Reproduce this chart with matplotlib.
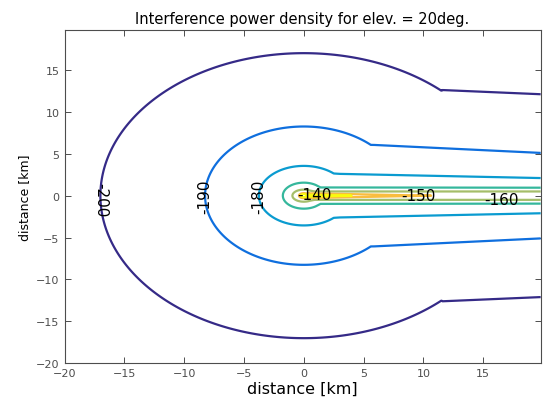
import numpy as np
import matplotlib
matplotlib.use('Agg')
import matplotlib.pyplot as plt

# contour levels [dB] and the shape of each contour (km)
levels = [-200, -190, -180, -170, -160, -150, -140]
round_rx = [17.0, 8.25, 3.75, 1.75, 0.95, 0.4, 0.25]   # half size of the round part, x
round_ry = [17.0, 8.25, 3.55, 1.55, 0.72, 0.3, 0.18]   # half size of the round part, y
knee_x = [11.5, 5.6, 2.5, 1.0, 0.5, 0.2, 0.1]          # where it turns into the tail
knee_len = [0.1, 0.3, 0.5, 0.4, 0.4, 0.2, 0.1]
tail_w0 = [12.6, 6.05, 2.6, 0.98, 0.5, 0.28, 0.12]     # tail half width after the knee
tail_w1 = [12.1, 5.1, 2.1, 0.95, 0.5, -0.25, -0.5]     # tail half width at x = 19.8
line_colors = ['#352a87', '#0f6fde', '#0a9bd0', '#35b79c',
               '#a5be6a', '#f9bd3f', '#f9fb0e']

# where the labels sit (-170 has none)
label_pos = [(-17.0, -0.4), (-8.25, 0.0), (-3.75, 0.0), (0.9, 0.05),
             (9.6, 0.1), (16.5, -0.5)]
label_rot = [-90, 90, 90, 0, 0, 0]

xmin, xmax = -20.0, 19.8

# build the field on a grid
g = np.arange(xmin, xmax + 0.001, 0.04)
X, Y = np.meshgrid(g, g)
Z = np.full(X.shape, levels[0] - 5.0)
eps = 0.06
for i in range(len(levels)):
    rx, ry, kx = round_rx[i], round_ry[i], knee_x[i]
    rho = np.sqrt((X / rx) ** 2 + (Y / ry) ** 2)
    s_round = (1 - rho) * ry
    h_knee = ry * np.sqrt(max(1 - (kx / rx) ** 2, 0))
    w = np.interp(X, [kx, kx + knee_len[i], xmax], [h_knee, tail_w0[i], tail_w1[i]])
    s_tail = w - np.abs(Y)
    s = np.where(X <= kx, s_round, s_tail)
    Z += 10.0 * np.clip(0.5 + s / eps, 0, 1)

fig = plt.figure(figsize=(5.43, 4.06), dpi=100)
ax = fig.add_axes([0.1188, 0.1027, 0.8769, 0.8217])

cs = ax.contour(X, Y, Z, levels=levels, colors=line_colors, linewidths=1.6)
ax.clabel(cs, levels=levels, manual=label_pos, inline=False,
          fontsize=11, colors='k', fmt='%d')
for t, rot in zip(cs.labelTexts, label_rot):
    t.set_rotation(rot)

ax.set_xlim(xmin, xmax)
ax.set_ylim(xmin, xmax)
ax.set_xticks(np.arange(-20, 16, 5))
ax.set_yticks(np.arange(-20, 16, 5))
ax.tick_params(direction='in', top=True, right=True, length=4, width=0.7,
               labelsize=8, colors='0.3', labelcolor='0.3')
for sp in ax.spines.values():
    sp.set_color('0.3')
    sp.set_linewidth(0.8)

ax.set_title('Interference power density for elev. = 20deg.', fontsize=10.5, pad=5)
ax.set_xlabel('distance [km]', fontsize=11.5, labelpad=2)
ax.set_ylabel('distance [km]', fontsize=9, labelpad=4)

fig.savefig('out.png', dpi=100)
